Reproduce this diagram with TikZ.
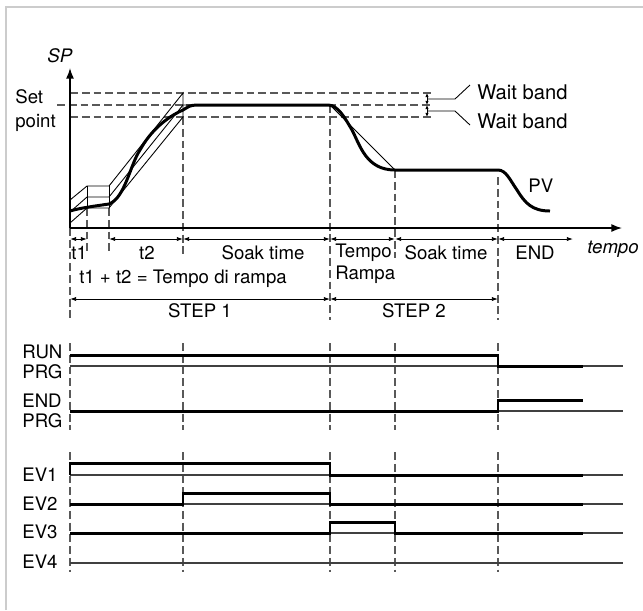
\documentclass[tikz,border=0pt]{standalone}
\usepackage{fontspec}
\setmainfont{TeX Gyre Heros}
\usetikzlibrary{arrows.meta}

\begin{document}
\begin{tikzpicture}[x=0.02cm,y=-0.02cm,
  frame/.style={draw=black!20,line width=0.8pt},
  thinline/.style={line width=0.5pt},
  pv/.style={line width=1.7pt,line join=round},
  sig/.style={line width=1.7pt},
  base/.style={line width=0.6pt,black!75},
  guide/.style={dash pattern=on 4.5pt off 2.2pt,line width=0.6pt,black!65},
  dim/.style={{Latex[length=3.5pt,width=2.4pt]}-{Latex[length=3.5pt,width=2.4pt]},line width=0.5pt},
  small dim/.style={{Latex[length=2.4pt,width=2pt]}-{Latex[length=2.4pt,width=2pt]},line width=0.5pt},
  axis/.style={-{Latex[length=6pt,width=4.5pt]},line width=0.8pt},
  lbl/.style={font=\fontsize{10.6}{12}\selectfont,inner sep=0pt},
  ital/.style={font=\fontsize{10.6}{12}\selectfont\itshape,inner sep=0pt},
  big/.style={font=\fontsize{11.5}{13}\selectfont,inner sep=0pt}
]
\useasboundingbox (0,0) rectangle (643,610);
\draw[frame] (6,610) -- (6,7) -- (643,7);

% set point diagram
\coordinate (orig) at (70,228);
\draw[guide] (70,93) -- (432,93);
\draw[guide] (57,105) -- (432,105);
\draw[guide] (70,117) -- (432,117);
\foreach \x/\a/\b in {70/228/320,87/208/255,109/208/255,183/117/255,330/105/320,395/170/258,498/177/320}
  \draw[guide] (\x,\a) -- (\x,\b);
\draw[axis] (orig) -- (70,68);
\draw[axis] (orig) -- (622,228);

\draw[thinline] (70,200) -- (87,186) -- (109,186) -- (183,93) -- (183,117);
\draw[thinline] (70,212) -- (87,197) -- (109,197) -- (183,105) -- (330,105) -- (395,170) -- (498,170);
\draw[thinline] (70,223) -- (87,208) -- (109,208) -- (183,117);
\draw[thinline] (87,186) -- (87,208) (109,186) -- (109,208);
\draw[pv] (70,211) .. controls (80,208) and (95,206) .. (109,204)
  .. controls (125,198) and (130,165) .. (140,150)
  .. controls (150,132) and (165,118) .. (183,110)
  .. controls (188,107) and (190,105) .. (197,105) -- (328,105)
  .. controls (338,105) and (345,118) .. (352,130)
  .. controls (360,145) and (366,170) .. (395,170) -- (498,170)
  .. controls (506,170) and (510,180) .. (517,190)
  .. controls (525,203) and (532,211) .. (550,211);

\node[ital,anchor=base west] (sp) at (47,62) {SP};
\node[lbl,anchor=base west] (set) at (15,103) {Set};
\node[lbl,anchor=base west] (point) at (15,127) {point};
\node[lbl,anchor=base west] (pvl) at (528,192) {PV};
\node[ital,anchor=base west] (tempo) at (587,253) {tempo};

\node[big,anchor=base west] (band1) at (477,99) {Wait band};
\node[big,anchor=base west] (band2) at (477,128) {Wait band};
\draw[small dim] (427,93) -- (427,105);
\draw[small dim] (427,105) -- (427,117);
\draw[thinline] (428,99) -- (455,99) -- (470,85);
\draw[thinline] (428,111) -- (455,111) -- (470,125);

\foreach \a/\b in {70/87,109/183,183/330,330/395,395/498,498/573}
  \draw[dim] (\a,239) -- (\b,239);
\draw[dim] (70,299) -- (330,299);
\draw[dim] (330,299) -- (498,299);

\node[lbl,anchor=base west] (t1) at (71,259) {t1};
\node[lbl,anchor=base] (t2) at (147,259) {t2};
\node[lbl,anchor=base] (soak1) at (263,259) {Soak time};
\node[lbl,anchor=base west] (ramp1) at (335,257) {Tempo};
\node[lbl,anchor=base west] (ramp2) at (335,279) {Rampa};
\node[lbl,anchor=base] (soak2) at (446,259) {Soak time};
\node[lbl,anchor=base] (endl) at (535,259) {END};
\node[lbl,anchor=base] (sum) at (183,283) {t1 + t2 = Tempo di rampa};
\node[lbl,anchor=base] (step1) at (200,317) {STEP 1};
\node[lbl,anchor=base] (step2) at (414,317) {STEP 2};

% time diagrams
\foreach \x in {70,183,330,395,498} {
  \draw[guide] (\x,343) -- (\x,430);
  \draw[guide] (\x,452) -- (\x,572);
}
\foreach \y in {366,411,475,504,533,563}
  \draw[base] (70,\y) -- (623,\y);

\node[lbl,anchor=base west] (run) at (22,358) {RUN};
\node[lbl,anchor=base west] (prg1) at (22,378) {PRG};
\node[lbl,anchor=base west] (end) at (22,407) {END};
\node[lbl,anchor=base west] (prg2) at (22,427) {PRG};
\node[lbl,anchor=base west] (ev1) at (22,481) {EV1};
\node[lbl,anchor=base west] (ev2) at (22,510) {EV2};
\node[lbl,anchor=base west] (ev3) at (22,538) {EV3};
\node[lbl,anchor=base west] (ev4) at (22,568) {EV4};

\draw[sig] (70,355) -- (498,355) -- (498,366) -- (583,366);
\draw[sig] (70,411) -- (498,411) -- (498,400) -- (583,400);
\draw[sig] (70,475) -- (70,463) -- (330,463) -- (330,475) -- (583,475);
\draw[sig] (70,504) -- (183,504) -- (183,493) -- (330,493) -- (330,504) -- (583,504);
\draw[sig] (70,533) -- (330,533) -- (330,522) -- (395,522) -- (395,533) -- (583,533);
\end{tikzpicture}
\end{document}
